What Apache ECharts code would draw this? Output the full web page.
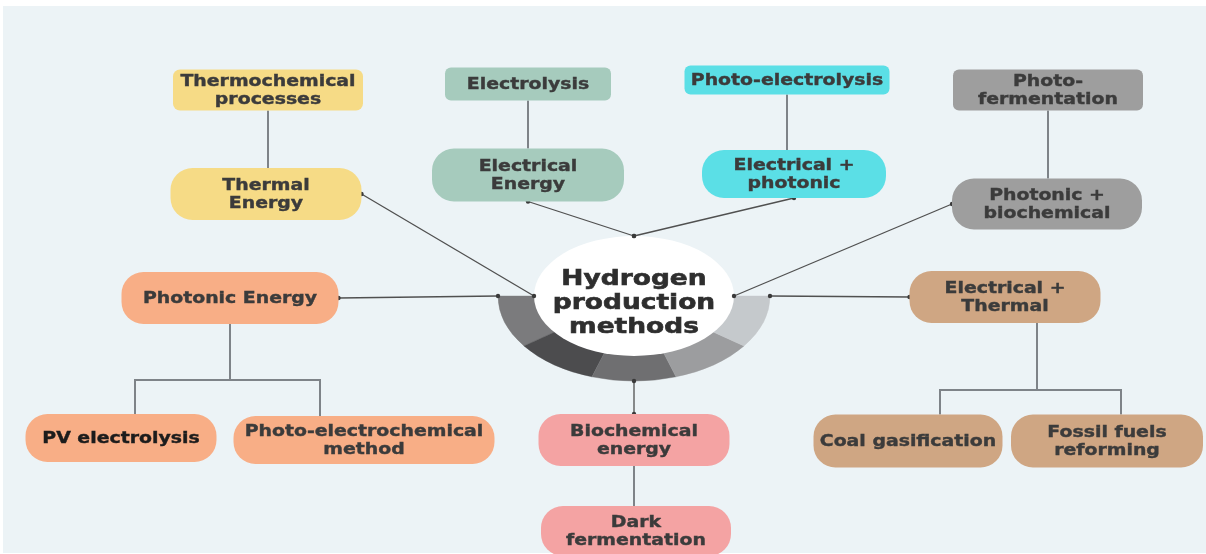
<!DOCTYPE html>
<html>
<head>
<meta charset="utf-8">
<script src="https://cdn.jsdelivr.net/npm/echarts@6/dist/echarts.min.js"></script>
<style>
html,body{margin:0;padding:0;background:#ffffff;}
#chart{width:1206px;height:554px;}
</style>
</head>
<body>
<div id="chart"></div>
<script>
// ---------- DATA ----------
const nodeLabels = [
  'Thermochemical\nprocesses', 'Thermal\nEnergy',
  'Electrolysis', 'Electrical\nEnergy',
  'Photo-electrolysis', 'Electrical +\nphotonic',
  'Photo-\nfermentation', 'Photonic +\nbiochemical',
  'Photonic Energy', 'PV electrolysis', 'Photo-electrochemical\nmethod',
  'Electrical +\nThermal', 'Coal gasification', 'Fossil fuels\nreforming',
  'Biochemical\nenergy', 'Dark\nfermentation'
];
const nodeX = [268, 266, 528, 528, 787, 794, 1048, 1047, 230, 121, 364, 1005, 908, 1107, 634, 636];
const nodeY = [90, 194, 84, 175, 80, 174, 90, 204, 298, 438, 440, 297, 441, 441, 440, 531];
const nodeGroup = [0, 0, 1, 1, 2, 2, 3, 3, 4, 4, 4, 5, 5, 5, 6, 6];
const hubLabel = 'Hydrogen\nproduction\nmethods';
const hubPos = [634, 296];
const hubLinks = [1, 3, 5, 7, 8, 11, 14];
const treeLinks = [[0, 1], [2, 3], [4, 5], [6, 7], [8, 9], [8, 10], [11, 12], [11, 13], [14, 15]];
const ringValues = [1, 1, 1, 1, 1];

// ---------- LAYOUT / STYLE ----------
const L = {
  size: [[190,41],[191,52],[166,33],[192,53],[205,29],[184,48],[190,41],[190,51],
         [217,52],[191,48],[261,48],[191,52],[189,53],[192,53],[191,52],[190,50]],
  radius: [7,22,6,22,6,22,6,22,22,22,22,22,22,22,22,22],
  palette: ['#f6db86', '#a6cbbd', '#5bdfe6', '#9e9e9e', '#f8ae86', '#cfa683', '#f4a3a3'],
  textColor: ['#3b3b3b','#3b3b3b','#3b3b3b','#3b3b3b','#3b3b3b','#3b3b3b','#3b3b3b','#3b3b3b',
              '#3b3b3b','#1c1c1c','#3b3b3b','#3b3b3b','#3b3b3b','#3b3b3b','#3b3b3b','#3b3b3b'],
  font: 'bold 16px "DejaVu Sans"',
  textScale: 1.18,
  lineHeight: 17.5,
  hubSide: { 1: ['right', 'innerW'], 3: ['bottom', 'innerN'], 5: ['bottom', 'innerN'], 7: ['left', 'innerE'],
             8: ['right', 'outerW'], 11: ['left', 'outerE'], 14: ['top', 'outerS'] },
  innerRx: 100, innerRy: 60,
  ringRx: 136, ringRy: 85,
  ringColors: ['#7b7b7d', '#4c4c4e', '#6f6f71', '#9c9d9f', '#c5c9cc'],
  hubFont: 'bold 21px "DejaVu Sans"', hubScale: 1.26, hubLineHeight: 24, hubTextDy: 8,
  elbows: { 8: { trunkX: 230, y: 380, drops: { 9: 135, 10: 320 } },
            11: { trunkX: 1037, y: 390, drops: { 12: 940, 13: 1121 } } },
  radialColor: '#505050', treeColor: '#7e8388'
};

function nodeAnchor(i, side) {
  const x = nodeX[i], y = nodeY[i], w = L.size[i][0], h = L.size[i][1];
  if (side === 'right') return [x + w / 2, y];
  if (side === 'left') return [x - w / 2, y];
  if (side === 'top') return [x, y - h / 2];
  return [x, y + h / 2];
}
function hubAnchor(name) {
  const x = hubPos[0], y = hubPos[1];
  switch (name) {
    case 'innerW': return [x - L.innerRx, y];
    case 'innerE': return [x + L.innerRx, y];
    case 'innerN': return [x, y - L.innerRy];
    case 'outerW': return [x - L.ringRx, y];
    case 'outerE': return [x + L.ringRx, y];
    default: return [x, y + L.ringRy];
  }
}

const chart = echarts.init(document.getElementById('chart'), null, { renderer: 'canvas' });

const option = {
  animation: false,
  backgroundColor: '#ffffff',
  graphic: [{
    type: 'rect', z: -10, silent: true,
    shape: { x: 3, y: 6, width: 1203, height: 547 },
    style: { fill: '#ecf3f6' }
  }],
  grid: { left: 0, right: 0, top: 0, bottom: 0, containLabel: false },
  xAxis: { type: 'value', min: 0, max: 1206, show: false },
  yAxis: { type: 'value', min: 0, max: 554, inverse: true, show: false },
  series: [
    {
      // tree connectors
      type: 'custom', silent: true, z: 1,
      data: treeLinks.map(l => [nodeX[l[0]], nodeY[l[0]]]),
      renderItem: function (params, api) {
        const p = treeLinks[params.dataIndex][0], c = treeLinks[params.dataIndex][1];
        const pb = nodeAnchor(p, 'bottom'), ct = nodeAnchor(c, 'top');
        const el = L.elbows[p];
        let pts;
        if (el) pts = [[el.trunkX, pb[1]], [el.trunkX, el.y], [el.drops[c], el.y], [el.drops[c], ct[1]]];
        else pts = [[pb[0], pb[1]], [pb[0], ct[1]]];
        return { type: 'polyline', shape: { points: pts.map(pt => api.coord(pt)) },
                 style: { stroke: L.treeColor, lineWidth: 2, fill: null } };
      }
    },
    {
      // hub ring, white disc and title
      type: 'custom', silent: true, z: 2,
      data: [hubPos],
      renderItem: function (params, api) {
        const c = api.coord([api.value(0), api.value(1)]);
        const total = ringValues.reduce((a, b) => a + b, 0);
        let a = Math.PI;
        const sectors = ringValues.map((v, k) => {
          const span = Math.PI * v / total;
          const s = { type: 'sector',
            shape: { cx: 0, cy: 0, r: L.ringRx, r0: 0, startAngle: a - span, endAngle: a, clockwise: true },
            style: { fill: L.ringColors[k], stroke: L.ringColors[k], lineWidth: 0.5 } };
          a -= span;
          return s;
        });
        return { type: 'group', children: [
          { type: 'group', x: c[0], y: c[1], scaleY: L.ringRy / L.ringRx, children: sectors },
          { type: 'group', x: c[0], y: c[1], scaleY: L.innerRy / L.innerRx,
            children: [{ type: 'circle', shape: { cx: 0, cy: 0, r: L.innerRx }, style: { fill: '#ffffff' } }] },
          { type: 'text', x: c[0], y: c[1] + L.hubTextDy, scaleX: L.hubScale,
            style: { text: hubLabel, font: L.hubFont, fill: '#2e2e2e', stroke: '#2e2e2e', lineWidth: 0.6,
                     align: 'center', verticalAlign: 'middle', lineHeight: L.hubLineHeight } }
        ] };
      }
    },
    {
      // radial links from hub
      type: 'custom', silent: true, z: 3,
      data: hubLinks.map(i => [nodeX[i], nodeY[i]]),
      renderItem: function (params, api) {
        const i = hubLinks[params.dataIndex];
        const sides = L.hubSide[i];
        const p1 = api.coord(nodeAnchor(i, sides[0]));
        const p2 = api.coord(hubAnchor(sides[1]));
        return { type: 'group', children: [
          { type: 'line', shape: { x1: p1[0], y1: p1[1], x2: p2[0], y2: p2[1] },
            style: { stroke: L.radialColor, lineWidth: 1.3 } },
          { type: 'circle', shape: { cx: p1[0], cy: p1[1], r: 2.2 }, style: { fill: '#3a3a3a' } },
          { type: 'circle', shape: { cx: p2[0], cy: p2[1], r: 2.2 }, style: { fill: '#3a3a3a' } }
        ] };
      }
    },
    {
      // nodes
      type: 'custom', silent: true, z: 4,
      data: nodeX.map((x, i) => [x, nodeY[i]]),
      renderItem: function (params, api) {
        const i = params.dataIndex;
        const c = api.coord([api.value(0), api.value(1)]);
        const s = api.size(L.size[i], [api.value(0), api.value(1)]);
        const w = s[0], h = s[1];
        return { type: 'group', children: [
          { type: 'rect', shape: { x: c[0] - w / 2, y: c[1] - h / 2, width: w, height: h, r: L.radius[i] },
            style: { fill: L.palette[nodeGroup[i]] } },
          { type: 'text', x: c[0], y: c[1] + 1, scaleX: L.textScale,
            style: { text: nodeLabels[i], font: L.font, fill: L.textColor[i], stroke: L.textColor[i],
                     lineWidth: 0.4, align: 'center', verticalAlign: 'middle', lineHeight: L.lineHeight } }
        ] };
      }
    }
  ]
};
chart.setOption(option);
</script>
</body>
</html>
